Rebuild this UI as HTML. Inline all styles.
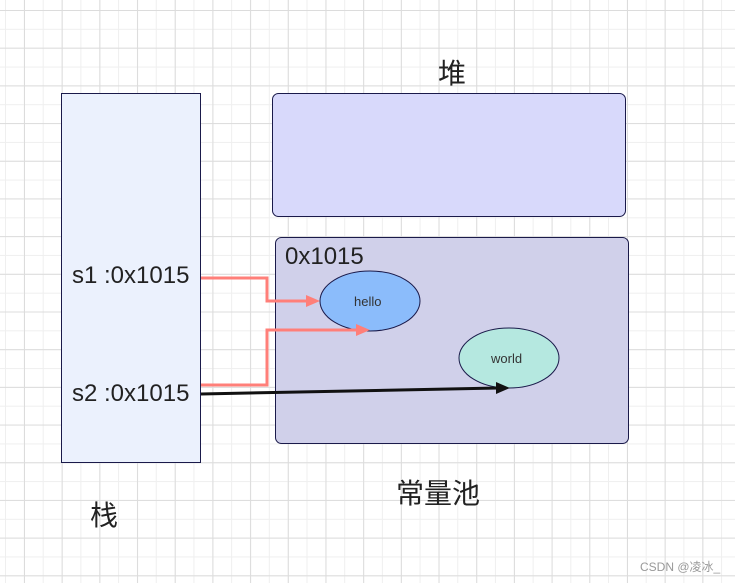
<!DOCTYPE html>
<html><head><meta charset="utf-8"><style>
body{margin:0;width:735px;height:583px;overflow:hidden;background:#fff;font-family:"Liberation Sans","Noto Sans CJK SC",sans-serif;}
.g{position:absolute;left:0;top:0;width:735px;height:583px;
background-image:
linear-gradient(to right,#dcdcdc 1px,transparent 1px),
linear-gradient(to bottom,#dcdcdc 1px,transparent 1px),
linear-gradient(to right,#efefef 1px,transparent 1px),
linear-gradient(to bottom,#efefef 1px,transparent 1px);
background-size:37.7px 37.7px,37.7px 37.7px,18.85px 18.85px,18.85px 18.85px;
background-position:24px 10px,24px 10px,5px 10px,5px 10px;}
.t{position:absolute;white-space:nowrap;color:#222;}
</style></head><body>
<div class="g"></div>
<svg width="735" height="583" style="position:absolute;left:0;top:0">
<rect x="61.5" y="93.5" width="139" height="369" fill="#ebf1fd" stroke="#1a1a4a"/>
<rect x="272.5" y="93.5" width="353" height="123" rx="6" fill="#d8d9fb" stroke="#1a1a4a"/>
<rect x="275.5" y="237.5" width="353" height="206" rx="6" fill="#d0d0ea" stroke="#1a1a4a"/>
<ellipse cx="370" cy="301" rx="50" ry="30" fill="#8bbcfb" stroke="#1a1a4a"/>
<ellipse cx="509" cy="358" rx="50" ry="30" fill="#b5e8e0" stroke="#1a1a4a"/>
<polyline points="201,278 267,278 267,301 308,301" fill="none" stroke="#ff7f79" stroke-width="3"/>
<polygon points="320,301 306,295 306,307" fill="#ff7f79"/>
<polyline points="201,385 267,385 267,330 358,330" fill="none" stroke="#ff7f79" stroke-width="3"/>
<polygon points="370,330 356,324 356,336" fill="#ff7f79"/>
<line x1="201" y1="394" x2="498" y2="388" stroke="#111" stroke-width="3"/>
<polygon points="510,388 496,382 496,394" fill="#111"/>
</svg>
<div class="t" style="left:72px;top:262px;font-size:24px">s1 :0x1015</div>
<div class="t" style="left:72px;top:380px;font-size:24px">s2 :0x1015</div>
<div class="t" style="left:285px;top:243px;font-size:24px">0x1015</div>
<div class="t" style="left:354px;top:294px;font-size:13px;color:#333">hello</div>
<div class="t" style="left:491px;top:351px;font-size:13px;color:#333">world</div>
<div class="t" style="left:438px;top:52px;font-size:28px">堆</div>
<div class="t" style="left:396px;top:472px;font-size:28px">常量池</div>
<div class="t" style="left:90px;top:494px;font-size:28px">栈</div>
<div class="t" style="left:640px;top:558px;font-size:12px;color:#999">CSDN @凌冰_</div>
</body></html>
